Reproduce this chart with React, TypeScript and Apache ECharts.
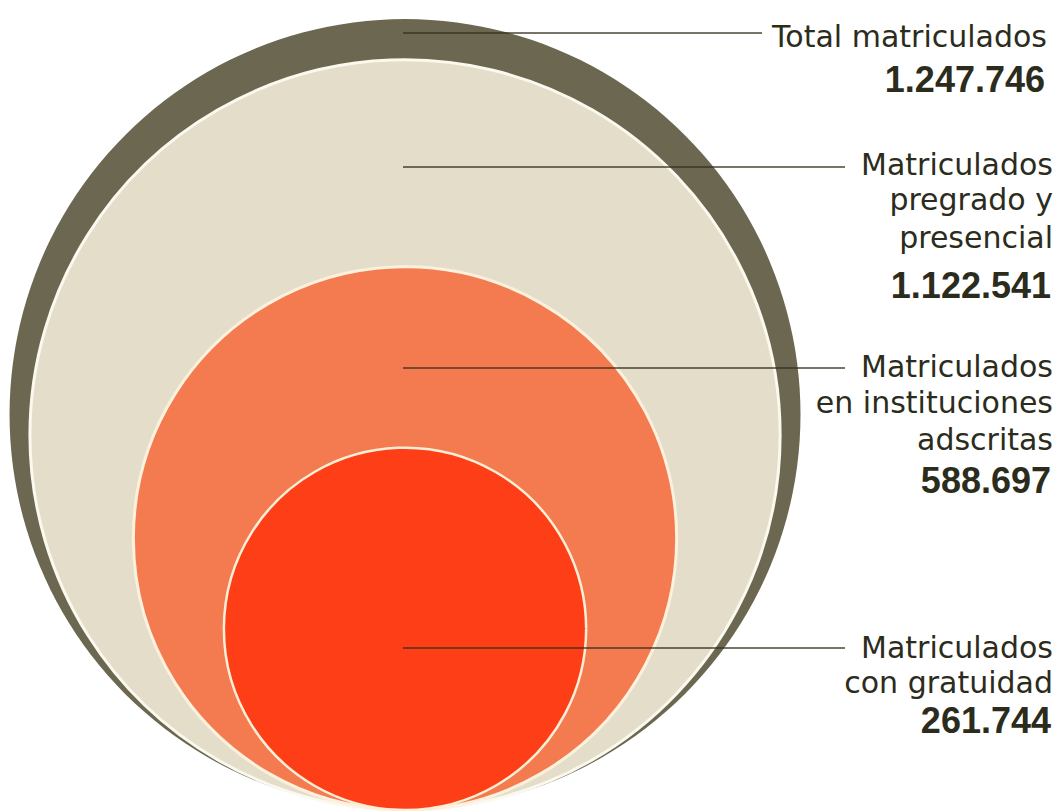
import React, { useEffect, useRef } from 'react';
import * as echarts from 'echarts';

// ---- data ----
const categories = [
  'Total matriculados',
  'Matriculados pregrado y presencial',
  'Matriculados en instituciones adscritas',
  'Matriculados con gratuidad',
];
const labelLines = [
  ['Total matriculados'],
  ['Matriculados', 'pregrado y', 'presencial'],
  ['Matriculados', 'en instituciones', 'adscritas'],
  ['Matriculados', 'con gratuidad'],
];
const values = [1247746, 1122541, 588697, 261744];

// ---- styles / layout ----
const fills = ['#6b6751', '#e4ddca', '#f47a50', '#fd3e16'];
const strokes = ['none', '#fbf8ee', '#fcf1dc', '#fcefd6'];
const strokeW = [0, 3, 3, 2.5];
const TEXT = '#2c2c1d';
const labelRight = [1047, 1053, 1053, 1053];
const leaderStart = 403;
const leaderY = [33, 167, 368, 648];
const leaderEnd = [762, 845, 845, 845];
const lineBaselines = [[47], [175, 210, 248], [377, 413, 450], [658, 693]];
const numberBaselines = [92, 298, 493, 733];
const LABEL_FS = 30;
const LABEL_FONT = '"DejaVu Sans"';
const LABEL_CENTRAL = 0.346;
const NUM_FS = 36;
const NUM_FONT = '"Liberation Sans"';
const NUM_CENTRAL = 0.3465;

function fmt(v: number): string {
  return String(v).replace(/\B(?=(\d{3})+(?!\d))/g, '.');
}

export default function App() {
  const ref = useRef<HTMLDivElement>(null);
  useEffect(() => {
    if (!ref.current) return;
    const chart = echarts.init(ref.current, undefined, { renderer: 'svg' });
    const graphics: any[] = [];
    categories.forEach((c, i) => {
      graphics.push({
        type: 'line',
        shape: { x1: leaderStart, y1: leaderY[i], x2: leaderEnd[i], y2: leaderY[i] },
        style: { stroke: '#35321f', lineWidth: 1.5, opacity: 0.9 },
        z: 100,
      });
      labelLines[i].forEach((t, j) => {
        graphics.push({
          type: 'text',
          x: labelRight[i],
          y: lineBaselines[i][j] - LABEL_CENTRAL * LABEL_FS,
          style: {
            text: t,
            fill: TEXT,
            font: `400 ${LABEL_FS}px ${LABEL_FONT}`,
            textAlign: 'right',
            textVerticalAlign: 'middle',
          },
          z: 100,
        });
      });
      graphics.push({
        type: 'text',
        x: labelRight[i] - 2,
        y: numberBaselines[i] - NUM_CENTRAL * NUM_FS,
        style: {
          text: fmt(values[i]),
          fill: TEXT,
          font: `700 ${NUM_FS}px ${NUM_FONT}`,
          textAlign: 'right',
          textVerticalAlign: 'middle',
        },
        z: 100,
      });
    });

    chart.setOption({
      animation: false,
      backgroundColor: '#ffffff',
      grid: { left: 0, top: 0, width: 1060, height: 810 },
      xAxis: { type: 'value', min: -1144, max: 1850, show: false },
      yAxis: { type: 'value', min: 0, max: 2288, show: false },
      series: [
        {
          type: 'custom',
          clip: false,
          data: values.map((v, i) => ({ name: categories[i], value: [0, v] })),
          renderItem: (params: any, api: any) => {
            const v = api.value(1);
            const r = Math.sqrt(v);
            const c = api.coord([0, r]);
            const s = api.size([r, r]);
            const i = params.dataIndex;
            return {
              type: 'circle',
              shape: { cx: c[0], cy: c[1], r: s[0] },
              style: {
                fill: fills[i],
                stroke: strokes[i],
                lineWidth: strokeW[i],
              },
            };
          },
        },
      ],
      graphic: graphics,
    });
    return () => chart.dispose();
  }, []);
  return (
    <div
      ref={ref}
      style={{ position: 'fixed', left: 0, top: 0, width: 1060, height: 811, background: '#fff' }}
    />
  );
}
